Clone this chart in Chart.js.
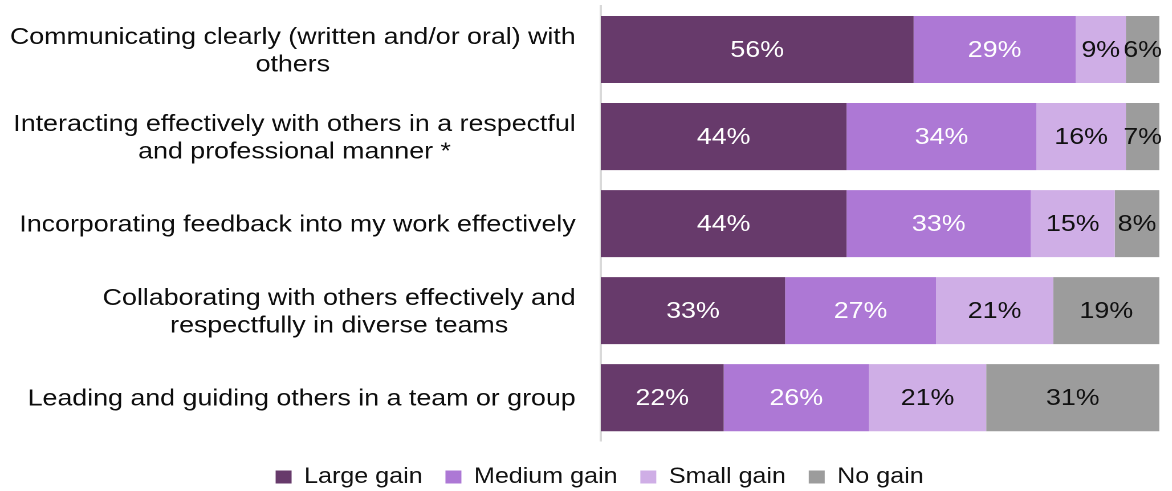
<!DOCTYPE html>
<html>
<head>
<meta charset="utf-8">
<script src="https://cdn.jsdelivr.net/npm/chart.js@4/dist/chart.umd.min.js"></script>
<style>
  html, body { margin: 0; padding: 0; background: #fff; overflow: hidden; }
  /* chart is laid out narrower and widened to the full page width */
  #wrap { width: 1028px; height: 491px; transform: scaleX(1.14); transform-origin: 0 0; }
</style>
</head>
<body>
<div id="wrap"><canvas id="chart1"></canvas></div>
<script>
const categories = [
    ['Communicating clearly (written and/or oral) with', 'others'],
    ['Interacting effectively with others in a respectful', 'and professional manner *'],
    ['Incorporating feedback into my work effectively'],
    ['Collaborating with others effectively and', 'respectfully in diverse teams'],
    ['Leading and guiding others in a team or group']
];
const seriesNames = ['Large gain', 'Medium gain', 'Small gain', 'No gain'];
const largeGain = [56, 44, 44, 33, 22];
const mediumGain = [29, 34, 33, 27, 26];
const smallGain = [9, 16, 15, 21, 21];
const noGain = [6, 7, 8, 19, 31];

const colors = ['#673a6b', '#ad78d5', '#cfaee6', '#9c9c9c'];
const valueColors = ['#ffffff', '#ffffff', '#111111', '#111111'];
const FONT = '"Liberation Sans", Arial, sans-serif';

// category text (centred lines, block right aligned) and the % inside each segment
const textLayer = {
    id: 'textLayer',
    afterDatasetsDraw(chart) {
        const ctx = chart.ctx;
        const area = chart.chartArea;
        const y = chart.scales.y;
        ctx.save();
        ctx.textAlign = 'center';
        ctx.textBaseline = 'middle';

        ctx.font = '23.5px ' + FONT;
        ctx.fillStyle = '#0d0d0d';
        const right = area.left - 22;
        categories.forEach(function(lines, i) {
            const yc = y.getPixelForValue(i) + 1.5;
            const w = Math.max.apply(null, lines.map(function(l) { return ctx.measureText(l).width; }));
            lines.forEach(function(line, j) {
                ctx.fillText(line, right - w / 2, yc + (j - (lines.length - 1) / 2) * 27.5);
            });
        });

        ctx.font = '23.5px ' + FONT;
        chart.data.datasets.forEach(function(ds, di) {
            chart.getDatasetMeta(di).data.forEach(function(bar, i) {
                const p = bar.getProps(['x', 'y', 'base'], true);
                const x2 = Math.min(p.x, area.right);
                ctx.fillStyle = valueColors[di];
                ctx.fillText(ds.data[i] + '%', (p.base + x2) / 2, p.y + 1);
            });
        });
        ctx.restore();
    }
};

var ctx = document.getElementById('chart1').getContext('2d');
new Chart(ctx, {
    type: 'bar',
    data: {
        labels: categories,
        datasets: [largeGain, mediumGain, smallGain, noGain].map(function(values, i) {
            return {
                label: seriesNames[i],
                data: values,
                backgroundColor: colors[i],
                borderWidth: 0,
                barPercentage: 0.77,
                categoryPercentage: 1
            };
        })
    },
    options: {
        indexAxis: 'y',
        responsive: true,
        maintainAspectRatio: false,
        devicePixelRatio: 2,
        animation: false,
        layout: {
            padding: { left: 35, right: 11, top: 6, bottom: -7 }
        },
        scales: {
            x: {
                stacked: true,
                min: 0,
                max: 100,
                display: false
            },
            y: {
                stacked: true,
                grid: { display: false },
                ticks: { display: false },
                border: { display: true, color: '#d9d9d9', width: 2 },
                afterFit: function(scale) { scale.width = 492; }
            }
        },
        plugins: {
            tooltip: { enabled: false },
            legend: {
                position: 'bottom',
                onClick: null,
                // empty title only adds a little room above the items
                title: { display: true, text: '', padding: 0, font: { size: 4 } },
                labels: {
                    color: '#111111',
                    font: { family: FONT, size: 22 },
                    boxWidth: 14,
                    boxHeight: 13,
                    padding: 20
                }
            }
        }
    },
    plugins: [textLayer]
});
</script>
</body>
</html>
